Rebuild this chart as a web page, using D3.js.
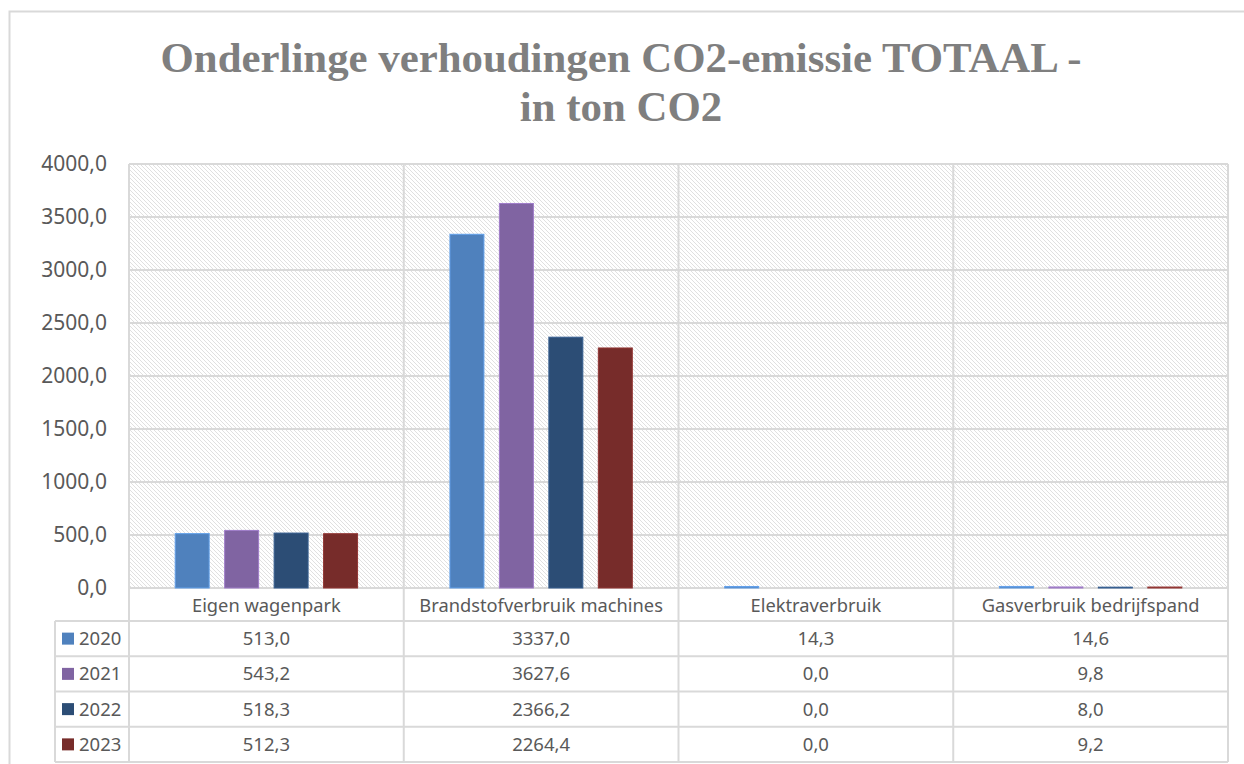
<!DOCTYPE html>
<html>
<head>
<meta charset="utf-8">
<script src="https://cdn.jsdelivr.net/npm/d3@7"></script>
<style>
  body { margin: 0; background: #fff; }
  svg { display: block; }
</style>
</head>
<body>
<div class="chartHolder"></div>
<script>
var categories = ["Eigen wagenpark", "Brandstofverbruik machines", "Elektraverbruik", "Gasverbruik bedrijfspand"];
var years = ["2020", "2021", "2022", "2023"];
var values2020 = [513.0, 3337.0, 14.3, 14.6];
var values2021 = [543.2, 3627.6, 0.0, 9.8];
var values2022 = [518.3, 2366.2, 0.0, 8.0];
var values2023 = [512.3, 2264.4, 0.0, 9.2];
var yTicks = [0, 500, 1000, 1500, 2000, 2500, 3000, 3500, 4000];
var colorsList = ["#4f81bd", "#8064a2", "#2c4d75", "#772c2a"];
var titleLines = ["Onderlinge verhoudingen CO2-emissie TOTAAL -", "in ton CO2"];

var series = [values2020, values2021, values2022, values2023];

var svgW = 1244, svgH = 764;
var plot = { left: 129, right: 1228, top: 164, bottom: 588 };
var tableLeft = 55, catRowBottom = 621, rowH = 35.25;
var gridCol = "#d9d9d9", textCol = "#595959";
var fontSans = "'Noto Sans', 'Open Sans', sans-serif";

var locale = d3.formatLocale({ decimal: ",", thousands: ".", grouping: [3], currency: ["", ""] });
var fmt = locale.format(".1f");

var svg = d3.select(".chartHolder").append("svg").attr("width", svgW).attr("height", svgH);

// hatch fill of the plot area
var defs = svg.append("defs");
var pat = defs.append("pattern").attr("id", "hatch").attr("patternUnits", "userSpaceOnUse")
  .attr("width", 4).attr("height", 4);
pat.append("rect").attr("width", 4).attr("height", 4).attr("fill", "#fff");
pat.append("path").attr("d", "M-1,-1 L5,5 M-1,3 L1,5 M3,-1 L5,1")
  .attr("stroke", "#e0e0e0").attr("stroke-width", 1);

// outer chart border
svg.append("rect").attr("x", 9.5).attr("y", 11.5).attr("width", svgW).attr("height", svgH)
  .attr("fill", "none").attr("stroke", gridCol).attr("stroke-width", 2);

// title
var title = svg.append("g").attr("class", "title");
title.selectAll("text").data(titleLines).enter().append("text")
  .attr("x", 621).attr("y", function (d, i) { return 72 + i * 49; })
  .attr("text-anchor", "middle")
  .attr("font-family", "'Liberation Serif', 'DejaVu Serif', serif")
  .attr("font-weight", "bold").attr("font-size", 40).attr("fill", "#7f7f7f")
  .text(function (d) { return d; });
// fit first line to the reference width
var firstW = title.select("text").node().getComputedTextLength();
var fs = 40 * 921 / firstW;
title.selectAll("text").attr("font-size", fs);

var yScale = d3.scaleLinear().domain([0, 4000]).range([plot.bottom, plot.top]);
var x0 = d3.scaleBand().domain(categories).range([plot.left, plot.right]);
var x1 = d3.scaleBand().domain(years).range([0, x0.bandwidth()]).paddingInner(0.313).paddingOuter(0.934);

svg.append("rect").attr("x", plot.left).attr("y", plot.top)
  .attr("width", plot.right - plot.left).attr("height", plot.bottom - plot.top)
  .attr("fill", "url(#hatch)");

// gridlines
svg.append("g").selectAll("line").data(yTicks).enter().append("line")
  .attr("x1", plot.left).attr("x2", plot.right)
  .attr("y1", function (d) { return yScale(d); }).attr("y2", function (d) { return yScale(d); })
  .attr("stroke", gridCol).attr("stroke-width", 2);

// y axis labels
var yAxis = d3.axisLeft(yScale).tickValues(yTicks).tickFormat(fmt).tickSize(0).tickPadding(22);
var yG = svg.append("g").attr("id", "y-axis").attr("transform", "translate(" + plot.left + ",0)").call(yAxis);
yG.select(".domain").remove();
yG.selectAll("text").attr("font-family", fontSans).attr("font-size", 21).attr("fill", textCol);

// bars
var groups = svg.append("g").selectAll("g").data(series).enter().append("g")
  .attr("fill", function (d, i) { return colorsList[i]; });
groups.selectAll("rect").data(function (d, i) {
  return d.map(function (v, j) { return { year: years[i], cat: categories[j], value: v, idx: i }; });
}).enter().append("rect")
  .attr("x", function (d) { return x0(d.cat) + x1(d.year); })
  .attr("y", function (d) { return yScale(d.value); })
  .attr("width", x1.bandwidth())
  .attr("height", function (d) { return yScale(0) - yScale(d.value); })
  .attr("stroke", function (d) { return d3.color(colorsList[d.idx]).brighter(0.6); })
  .attr("stroke-width", function (d) { return d.value > 0 ? 1 : 0; });

// data table
var nRows = years.length;
var tableBottom = catRowBottom + nRows * rowH;
var table = svg.append("g").attr("class", "table");

// vertical lines
var vx = categories.map(function (c) { return x0(c); }).concat([plot.right]);
table.selectAll(".vline").data(vx).enter().append("line").attr("class", "vline")
  .attr("x1", function (d) { return d; }).attr("x2", function (d) { return d; })
  .attr("y1", plot.top).attr("y2", tableBottom)
  .attr("stroke", gridCol).attr("stroke-width", 2);
table.append("line").attr("x1", tableLeft).attr("x2", tableLeft)
  .attr("y1", catRowBottom).attr("y2", tableBottom).attr("stroke", gridCol).attr("stroke-width", 2);
// horizontal lines
var hy = d3.range(nRows + 1).map(function (i) { return catRowBottom + i * rowH; });
table.selectAll(".hline").data(hy).enter().append("line").attr("class", "hline")
  .attr("x1", tableLeft).attr("x2", plot.right)
  .attr("y1", function (d) { return d; }).attr("y2", function (d) { return d; })
  .attr("stroke", gridCol).attr("stroke-width", 2);
// plot top border
svg.append("line").attr("x1", plot.left).attr("x2", plot.right).attr("y1", plot.top).attr("y2", plot.top)
  .attr("stroke", gridCol).attr("stroke-width", 2);

// category labels
table.selectAll(".cat").data(categories).enter().append("text").attr("class", "cat")
  .attr("x", function (d) { return x0(d) + x0.bandwidth() / 2; })
  .attr("y", (plot.bottom + catRowBottom) / 2 + 1).attr("dy", "0.35em")
  .attr("text-anchor", "middle").attr("font-family", fontSans).attr("font-size", 18.3)
  .attr("fill", textCol).text(function (d) { return d; });

// legend keys
var rows = table.selectAll(".row").data(series).enter().append("g").attr("class", "row")
  .attr("transform", function (d, i) { return "translate(0," + (catRowBottom + i * rowH + rowH / 2) + ")"; });
rows.append("rect").attr("x", 62).attr("y", -6).attr("width", 12).attr("height", 12)
  .attr("fill", function (d, i) { return colorsList[i]; });
rows.append("text").attr("x", 79).attr("dy", "0.35em")
  .attr("font-family", fontSans).attr("font-size", 18.5).attr("fill", textCol)
  .text(function (d, i) { return years[i]; });
rows.selectAll(".val").data(function (d) { return d; }).enter().append("text").attr("class", "val")
  .attr("x", function (d, j) { return x0(categories[j]) + x0.bandwidth() / 2; })
  .attr("dy", "0.35em").attr("text-anchor", "middle")
  .attr("font-family", fontSans).attr("font-size", 18.5).attr("fill", textCol)
  .text(function (d) { return fmt(d); });
</script>
</body>
</html>
